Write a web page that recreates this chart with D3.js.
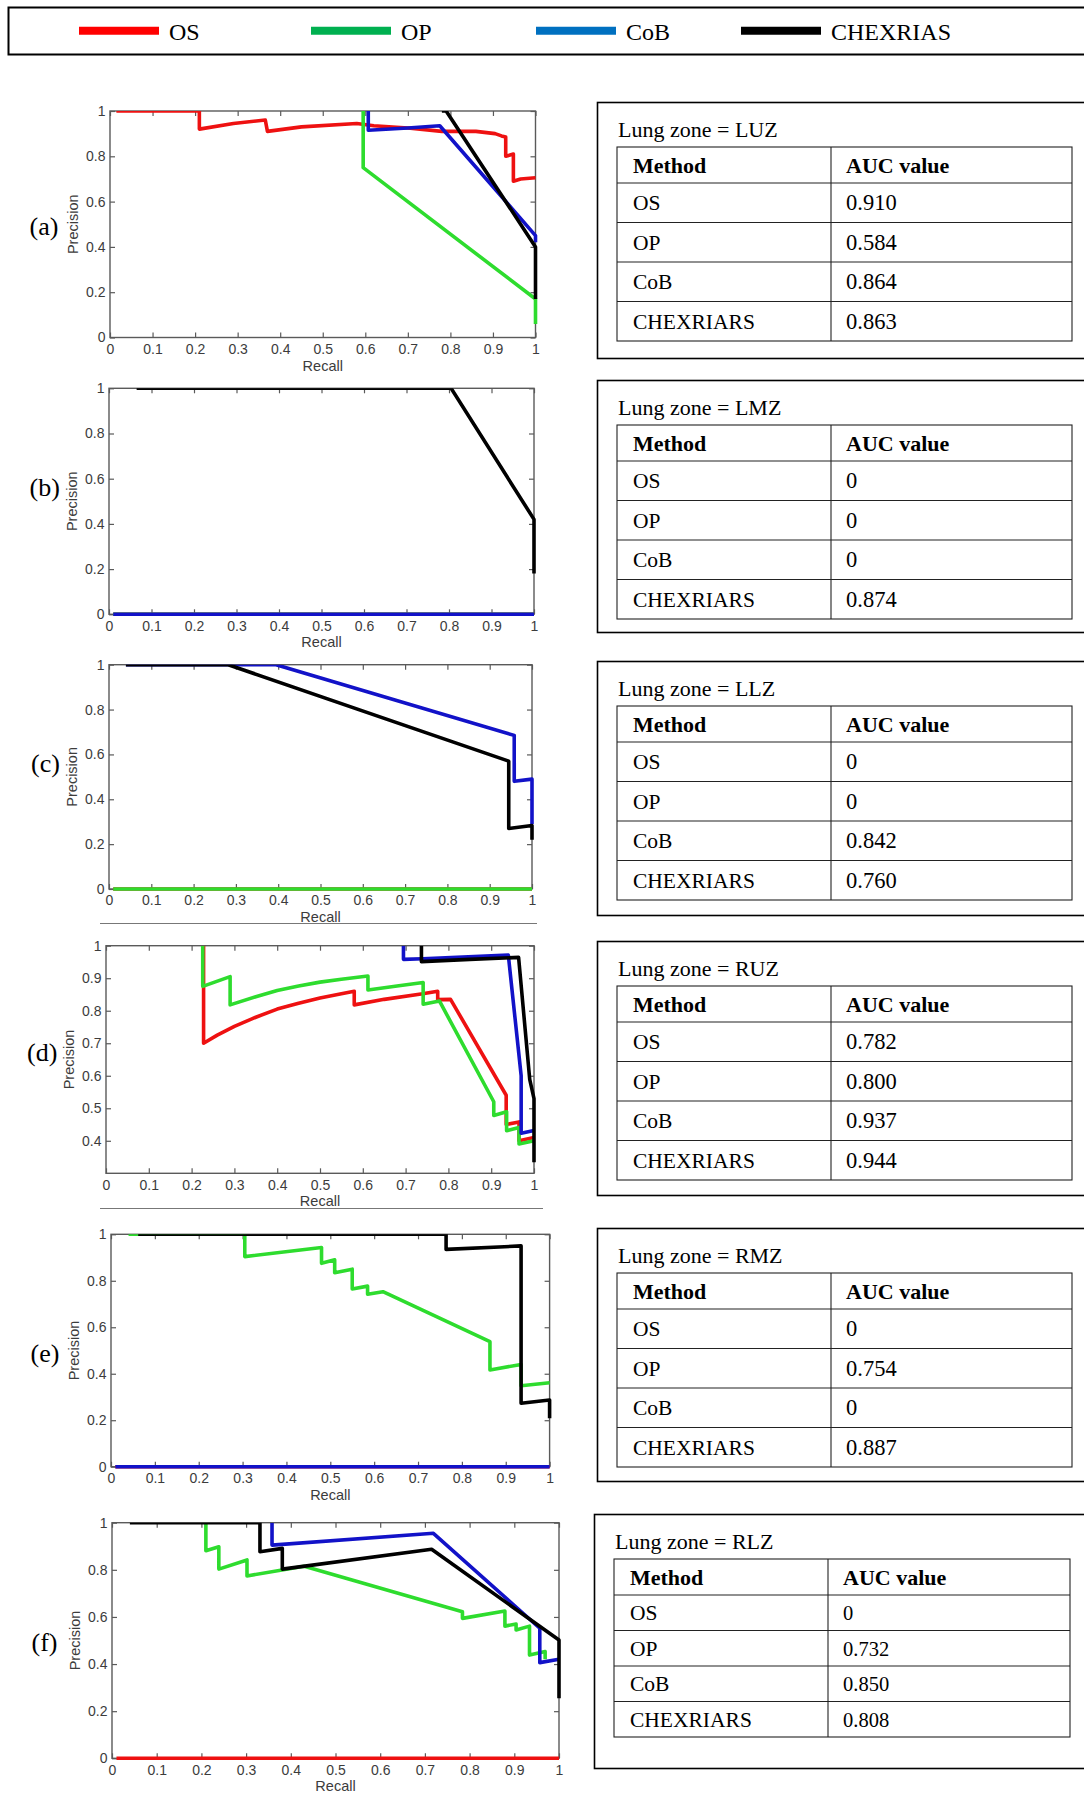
<!DOCTYPE html>
<html><head><meta charset="utf-8">
<script src="https://cdn.jsdelivr.net/npm/d3@7"></script>
<style>body{margin:0;background:#fff}svg{display:block}</style>
</head><body><svg id="c" width="1084" height="1793"></svg>
<script>
// ---------------- DATA ----------------
const methods = ["OS", "OP", "CoB", "CHEXRIARS"];
const legendLabels = ["OS", "OP", "CoB", "CHEXRIAS"];
const zones = ["LUZ", "LMZ", "LLZ", "RUZ", "RMZ", "RLZ"];
const panelLetters = ["(a)", "(b)", "(c)", "(d)", "(e)", "(f)"];
const tableHeader = ["Method", "AUC value"];

const xTicks = [0, 0.1, 0.2, 0.3, 0.4, 0.5, 0.6, 0.7, 0.8, 0.9, 1];
const xTickLabels = ["0", "0.1", "0.2", "0.3", "0.4", "0.5", "0.6", "0.7", "0.8", "0.9", "1"];
const yTicks = [0, 0.2, 0.4, 0.6, 0.8, 1];
const yTickLabels = ["0", "0.2", "0.4", "0.6", "0.8", "1"];
const yTicksRUZ = [0.4, 0.5, 0.6, 0.7, 0.8, 0.9, 1];
const yTickLabelsRUZ = ["0.4", "0.5", "0.6", "0.7", "0.8", "0.9", "1"];
const yDomainFull = [0, 1];
const yDomainRUZ = [0.3, 1];

const aucLUZ = ["0.910", "0.584", "0.864", "0.863"];
const aucLMZ = ["0", "0", "0", "0.874"];
const aucLLZ = ["0", "0", "0.842", "0.760"];
const aucRUZ = ["0.782", "0.800", "0.937", "0.944"];
const aucRMZ = ["0", "0.754", "0", "0.887"];
const aucRLZ = ["0", "0.732", "0.850", "0.808"];

// precision-recall curves: [recall, precision]
const luzOS = [[0.015,1],[0.21,1],[0.21,0.92],[0.29,0.945],[0.365,0.96],[0.37,0.91],[0.45,0.93],[0.58,0.945],[0.62,0.935],[0.70,0.925],[0.78,0.91],[0.86,0.91],[0.905,0.9],[0.92,0.89],[0.93,0.885],[0.93,0.80],[0.948,0.81],[0.948,0.69],[0.965,0.70],[1,0.705]];
const luzOP = [[0.595,1],[0.595,0.75],[1,0.17],[1,0.06]];
const luzCoB = [[0.607,1],[0.607,0.915],[0.70,0.925],[0.775,0.935],[1,0.45],[1,0.42]];
const luzCHEX = [[0.78,1],[0.79,1],[1,0.40],[1,0.17]];

const lmzOS = [[0.01,0],[1,0]];
const lmzOP = [[0.01,0],[1,0]];
const lmzCoB = [[0.01,0],[1,0]];
const lmzCHEX = [[0.065,1],[0.805,1],[1,0.42],[1,0.18]];

const llzOS = [[0.01,0],[1,0]];
const llzOP = [[0.01,0],[1,0]];
const llzCoB = [[0.04,1],[0.395,1],[0.958,0.685],[0.958,0.48],[1,0.49],[1,0.29]];
const llzCHEX = [[0.04,1],[0.282,1],[0.945,0.57],[0.945,0.27],[1,0.283],[1,0.22]];

const ruzOS = [[0.228,1],[0.228,0.70],[0.26,0.725],[0.3,0.752],[0.35,0.78],[0.4,0.805],[0.45,0.823],[0.5,0.839],[0.55,0.852],[0.58,0.86],[0.58,0.818],[0.65,0.835],[0.74,0.852],[0.775,0.86],[0.775,0.834],[0.805,0.835],[0.935,0.54],[0.935,0.45],[0.965,0.458],[0.965,0.40],[1,0.41]];
const ruzOP = [[0.226,1],[0.226,0.875],[0.29,0.905],[0.29,0.818],[0.35,0.843],[0.4,0.862],[0.45,0.876],[0.5,0.888],[0.55,0.897],[0.612,0.907],[0.612,0.864],[0.68,0.876],[0.741,0.887],[0.741,0.82],[0.779,0.83],[0.906,0.52],[0.906,0.478],[0.936,0.489],[0.936,0.431],[0.965,0.441],[0.965,0.39],[1,0.40]];
const ruzCoB = [[0.695,1],[0.695,0.958],[0.74,0.96],[0.94,0.971],[0.97,0.60],[0.97,0.423],[1,0.432]];
const ruzCHEX = [[0.737,1],[0.737,0.951],[0.85,0.958],[0.964,0.964],[0.99,0.589],[1,0.53],[1,0.334]];

const rmzOS = [[0.01,0],[1,0]];
const rmzOP = [[0.04,1],[0.305,1],[0.305,0.904],[0.48,0.943],[0.48,0.875],[0.51,0.89],[0.51,0.835],[0.55,0.85],[0.55,0.765],[0.585,0.777],[0.585,0.742],[0.62,0.753],[0.864,0.538],[0.864,0.416],[0.935,0.44],[0.935,0.348],[1,0.361]];
const rmzCoB = [[0.01,0],[1,0]];
const rmzCHEX = [[0.062,1],[0.764,1],[0.764,0.935],[0.935,0.95],[0.935,0.273],[1,0.287],[1,0.208]];

const rlzOS = [[0.01,0],[1,0]];
const rlzOP = [[0.21,1],[0.21,0.881],[0.239,0.898],[0.239,0.803],[0.302,0.842],[0.302,0.774],[0.43,0.815],[0.784,0.622],[0.784,0.594],[0.879,0.625],[0.879,0.561],[0.904,0.57],[0.904,0.545],[0.934,0.561],[0.934,0.438],[0.969,0.453],[0.969,0.42]];
const rlzCoB = [[0.358,1],[0.358,0.905],[0.719,0.955],[0.957,0.552],[0.957,0.406],[1,0.42]];
const rlzCHEX = [[0.04,1],[0.331,1],[0.331,0.877],[0.381,0.891],[0.381,0.803],[0.715,0.887],[1,0.502],[1,0.255]];

// ---------------- STYLE / LAYOUT ----------------
const lineColors = ["#ee1111", "#2edc2e", "#1212c8", "#000000"];
const legendColors = ["#ff0000", "#00b050", "#0070c0", "#000000"];
const SANS = "'Liberation Sans', Arial, sans-serif";
const SERIF = "'Liberation Serif', 'Times New Roman', serif";

const svg = d3.select("#c");
const defs = svg.append("defs");

// legend
svg.append("rect").attr("x", 8.5).attr("y", 7.5).attr("width", 1100).attr("height", 47)
  .attr("fill", "none").attr("stroke", "#000").attr("stroke-width", 2);
const legendX = [79, 311, 536, 741];
legendLabels.forEach((lab, i) => {
  svg.append("line").attr("x1", legendX[i]).attr("x2", legendX[i] + 80)
    .attr("y1", 30.7).attr("y2", 30.7).attr("stroke", legendColors[i]).attr("stroke-width", 8);
  svg.append("text").attr("x", legendX[i] + 90).attr("y", 39.5).text(lab)
    .attr("font-family", SERIF).attr("font-size", 24).attr("fill", "#000");
});

const panels = [
  {series: [luzOS, luzOP, luzCoB, luzCHEX], auc: aucLUZ, yd: yDomainFull, yt: yTicks, yl: yTickLabels,
   box: {l:110, r:535.5, t:111, b:337.5}, letter: [29.5, 235], table: {ox:597, oy:102, oh:256, tx:617, tr:1072, split:831, head:36, row:39.5, vf:22}},
  {series: [lmzOS, lmzOP, lmzCoB, lmzCHEX], auc: aucLMZ, yd: yDomainFull, yt: yTicks, yl: yTickLabels,
   box: {l:109, r:534, t:388.3, b:614.3}, letter: [29.5, 496], table: {ox:597, oy:380, oh:252, tx:617, tr:1072, split:831, head:36, row:39.5, vf:22}},
  {series: [llzOS, llzOP, llzCoB, llzCHEX], auc: aucLLZ, yd: yDomainFull, yt: yTicks, yl: yTickLabels,
   box: {l:109, r:532, t:664.7, b:889}, letter: [31, 772], table: {ox:597, oy:661, oh:254, tx:617, tr:1072, split:831, head:36, row:39.5, vf:22}},
  {series: [ruzOS, ruzOP, ruzCoB, ruzCHEX], auc: aucRUZ, yd: yDomainRUZ, yt: yTicksRUZ, yl: yTickLabelsRUZ,
   box: {l:106, r:534, t:945.7, b:1173.3}, letter: [27, 1061], table: {ox:597, oy:941, oh:254, tx:617, tr:1072, split:831, head:36, row:39.5, vf:22}},
  {series: [rmzOS, rmzOP, rmzCoB, rmzCHEX], auc: aucRMZ, yd: yDomainFull, yt: yTicks, yl: yTickLabels,
   box: {l:111, r:549.6, t:1234.3, b:1466.7}, letter: [30.5, 1362], table: {ox:597, oy:1228, oh:253, tx:617, tr:1072, split:831, head:36, row:39.5, vf:22}},
  {series: [rlzOS, rlzOP, rlzCoB, rlzCHEX], auc: aucRLZ, yd: yDomainFull, yt: yTicks, yl: yTickLabels,
   box: {l:112, r:559, t:1522.7, b:1758.3}, letter: [31.5, 1651], table: {ox:594, oy:1514, oh:254, tx:614, tr:1070, split:828, head:36, row:35.5, vf:20}}
];

const axisColor = "#5a5a5a";
const tickText = "#3c3c3c";

panels.forEach((p, pi) => {
  const B = p.box;
  const x = d3.scaleLinear().domain([0, 1]).range([B.l, B.r]);
  const y = d3.scaleLinear().domain(p.yd).range([B.b, B.t]);
  const g = svg.append("g");

  defs.append("clipPath").attr("id", "clip" + pi).append("rect")
    .attr("x", B.l - 10).attr("y", B.t).attr("width", B.r - B.l + 20).attr("height", B.b - B.t + 10);

  g.append("rect").attr("x", B.l).attr("y", B.t).attr("width", B.r - B.l).attr("height", B.b - B.t)
    .attr("fill", "#fff").attr("stroke", axisColor).attr("stroke-width", 1.4);

  const styleAxis = (sel) => {
    sel.select(".domain").remove();
    sel.selectAll(".tick line").attr("stroke", axisColor).attr("stroke-width", 1.2);
    sel.selectAll(".tick text").attr("fill", tickText).attr("font-family", SANS).attr("font-size", 14);
  };
  g.append("g").attr("transform", `translate(0,${B.b})`)
    .call(d3.axisBottom(x).tickValues(xTicks).tickFormat((d, i) => xTickLabels[i]).tickSizeInner(-5).tickSizeOuter(0).tickPadding(6.5))
    .call(styleAxis);
  g.append("g").attr("transform", `translate(0,${B.t})`)
    .call(d3.axisTop(x).tickValues(xTicks).tickFormat("").tickSizeInner(-5).tickSizeOuter(0))
    .call(styleAxis);
  g.append("g").attr("transform", `translate(${B.l},0)`)
    .call(d3.axisLeft(y).tickValues(p.yt).tickFormat((d, i) => p.yl[i]).tickSizeInner(-5).tickSizeOuter(0).tickPadding(4.5))
    .call(styleAxis);
  g.append("g").attr("transform", `translate(${B.r},0)`)
    .call(d3.axisRight(y).tickValues(p.yt).tickFormat("").tickSizeInner(-5).tickSizeOuter(0))
    .call(styleAxis);

  // curves drawn above the axes box, clipped along the top edge
  const line = d3.line().x(d => x(d[0])).y(d => y(d[1]));
  const cg = g.append("g").attr("clip-path", `url(#clip${pi})`);
  p.series.forEach((s, si) => {
    cg.append("path").datum(s).attr("d", line).attr("fill", "none")
      .attr("stroke", lineColors[si]).attr("stroke-width", 3.6)
      .attr("stroke-linejoin", "round").attr("stroke-linecap", "butt");
  });

  g.append("text").attr("x", (B.l + B.r) / 2).attr("y", B.b + 33).attr("text-anchor", "middle")
    .attr("font-family", SANS).attr("font-size", 14.5).attr("fill", tickText).text("Recall");
  g.append("text").attr("transform", `translate(${B.l - 32},${(B.t + B.b) / 2}) rotate(-90)`)
    .attr("text-anchor", "middle").attr("font-family", SANS).attr("font-size", 14.5).attr("fill", tickText).text("Precision");
  svg.append("text").attr("x", p.letter[0]).attr("y", p.letter[1]).attr("font-family", SERIF)
    .attr("font-size", 26).attr("fill", "#000").text(panelLetters[pi]);

  // table
  const T = p.table;
  const tg = svg.append("g");
  tg.append("rect").attr("x", T.ox + 0.5).attr("y", T.oy + 0.5).attr("width", 1100 - T.ox).attr("height", T.oh)
    .attr("fill", "none").attr("stroke", "#000").attr("stroke-width", 1.6);
  tg.append("text").attr("x", T.tx + 1).attr("y", T.oy + 35).attr("font-family", SERIF).attr("font-size", 22)
    .attr("fill", "#000").text("Lung zone = " + zones[pi]);
  const top = T.oy + 45;
  const rowsY = [top, top + T.head];
  for (let k = 1; k <= methods.length; k++) rowsY.push(top + T.head + k * T.row);
  const bottom = rowsY[rowsY.length - 1];
  tg.append("rect").attr("x", T.tx).attr("y", top).attr("width", T.tr - T.tx).attr("height", bottom - top)
    .attr("fill", "none").attr("stroke", "#222").attr("stroke-width", 1.1);
  rowsY.slice(1, -1).forEach(yy => {
    tg.append("line").attr("x1", T.tx).attr("x2", T.tr).attr("y1", yy).attr("y2", yy)
      .attr("stroke", "#222").attr("stroke-width", 1.1);
  });
  tg.append("line").attr("x1", T.split).attr("x2", T.split).attr("y1", top).attr("y2", bottom)
    .attr("stroke", "#222").attr("stroke-width", 1.1);
  const hc = (rowsY[0] + rowsY[1]) / 2 + 7.5;
  tg.append("text").attr("x", T.tx + 16).attr("y", hc).attr("font-family", SERIF).attr("font-weight", "bold")
    .attr("font-size", 22).text(tableHeader[0]);
  tg.append("text").attr("x", T.split + 15).attr("y", hc).attr("font-family", SERIF).attr("font-weight", "bold")
    .attr("font-size", 22).text(tableHeader[1]);
  methods.forEach((m, k) => {
    const cy = (rowsY[k + 1] + rowsY[k + 2]) / 2 + 7.5;
    tg.append("text").attr("x", T.tx + 16).attr("y", cy).attr("font-family", SERIF).attr("font-size", 21.5).text(m);
    tg.append("text").attr("x", T.split + 15).attr("y", cy).attr("font-family", SERIF).attr("font-size", T.vf + 0.5).text(p.auc[k]);
  });
});

svg.append("line").attr("x1", 100).attr("x2", 537).attr("y1", 923.5).attr("y2", 923.5).attr("stroke", "#777").attr("stroke-width", 1);
svg.append("line").attr("x1", 100).attr("x2", 543).attr("y1", 1208.5).attr("y2", 1208.5).attr("stroke", "#777").attr("stroke-width", 1);
</script></body></html>
